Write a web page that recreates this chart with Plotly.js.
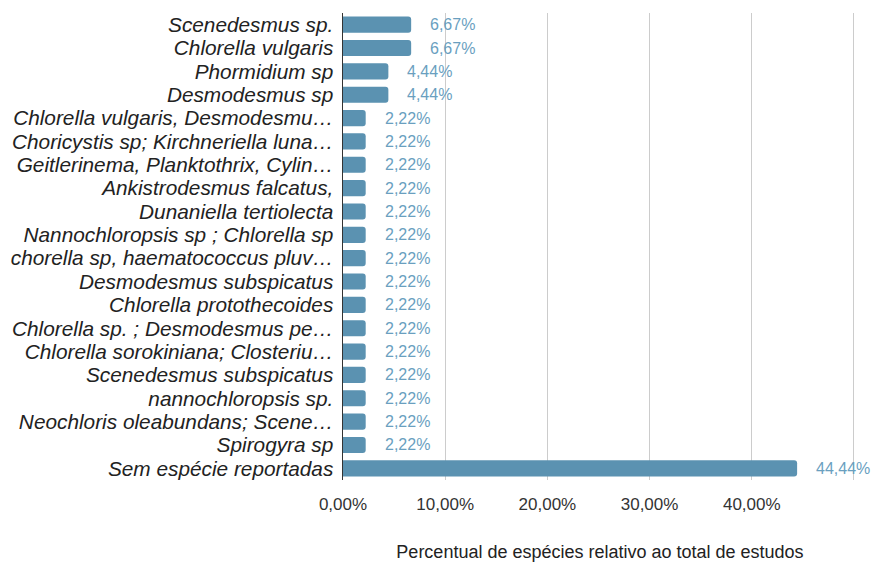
<!DOCTYPE html>
<html>
<head>
<meta charset="utf-8">
<script src="https://cdn.plot.ly/plotly-3.0.1.min.js"></script>
<style>html,body{margin:0;padding:0;background:#fff;}#chart{width:873px;height:562px;}</style>
</head>
<body>
<div id="chart"></div>
<script>
const categories = [
  "Scenedesmus sp.",
  "Chlorella vulgaris",
  "Phormidium sp",
  "Desmodesmus sp",
  "Chlorella vulgaris, Desmodesmu…",
  "Choricystis sp; Kirchneriella luna…",
  "Geitlerinema, Planktothrix, Cylin…",
  "Ankistrodesmus falcatus,",
  "Dunaniella tertiolecta",
  "Nannochloropsis sp ; Chlorella sp",
  "chorella sp, haematococcus pluv…",
  "Desmodesmus subspicatus",
  "Chlorella protothecoides",
  "Chlorella sp. ; Desmodesmus pe…",
  "Chlorella sorokiniana; Closteriu…",
  "Scenedesmus subspicatus",
  "nannochloropsis sp.",
  "Neochloris oleabundans; Scene…",
  "Spirogyra sp",
  "Sem espécie reportadas"
];
const values = [6.67, 6.67, 4.44, 4.44, 2.22, 2.22, 2.22, 2.22, 2.22, 2.22, 2.22, 2.22, 2.22, 2.22, 2.22, 2.22, 2.22, 2.22, 2.22, 44.44];
const tickVals = [0, 10, 20, 30, 40, 50];
const tickLabels = ["0,00%", "10,00%", "20,00%", "30,00%", "40,00%", ""];
const xTitle = "Percentual de espécies relativo ao total de estudos";

const fmt = v => v.toFixed(2).replace(".", ",") + "%";
const FONT = "'Liberation Sans', Arial, sans-serif";

const trace = {
  type: "bar",
  orientation: "h",
  x: values,
  y: categories,
  marker: {color: "#5b92b1", cornerradius: 3},
  width: 0.69,
  hoverinfo: "none"
};

const annotations = values.map((v, i) => ({
  x: v, y: categories[i], xref: "x", yref: "y",
  text: fmt(v), showarrow: false, xanchor: "left", yanchor: "middle",
  xshift: 17, font: {family: FONT, size: 16, color: "#6a9fbf"}
}));

const layout = {
  width: 873, height: 562,
  margin: {l: 343, r: 16, t: 13, b: 82},
  paper_bgcolor: "#fff", plot_bgcolor: "#fff",
  showlegend: false,
  xaxis: {
    range: [0, 50.3],
    tickvals: tickVals, ticktext: tickLabels,
    showgrid: true, gridcolor: "#cccccc", gridwidth: 1,
    zeroline: false, showline: false,
    ticks: "", ticklabelstandoff: 12,
    tickfont: {family: FONT, size: 17, color: "#333333"},
    title: {text: xTitle, standoff: 44, font: {family: FONT, size: 18, color: "#222222"}}
  },
  yaxis: {
    autorange: "reversed",
    tickmode: "array", tickvals: categories, ticktext: categories,
    showgrid: false, zeroline: false,
    showline: true, linecolor: "#333333", linewidth: 1.5,
    ticks: "", ticklabelstandoff: 4,
    tickfont: {family: FONT, size: 20.8, color: "#222222", style: "italic"}
  },
  annotations: annotations
};

Plotly.newPlot("chart", [trace], layout, {displayModeBar: false, staticPlot: true});
</script>
</body>
</html>
